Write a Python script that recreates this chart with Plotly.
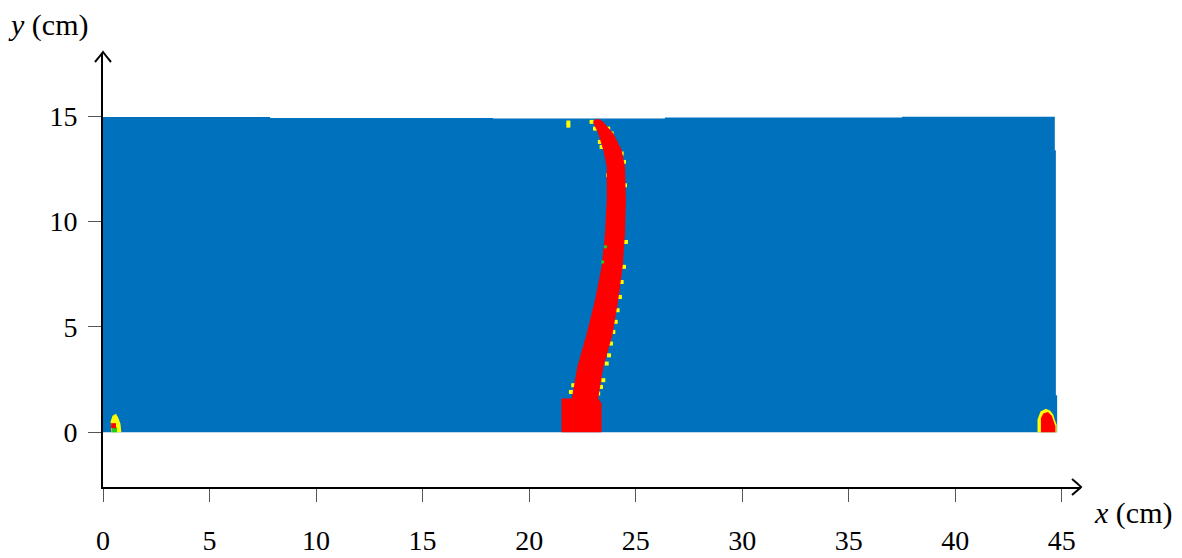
import plotly.graph_objects as go

# domain (water) outline, top edge is slightly stepped
domain_x = [0, 0, 7.84, 7.84, 18.3, 18.3, 26.37, 26.37, 37.5, 37.5, 44.67, 44.67, 44.72, 44.72, 44.78, 44.78]
domain_y = [0, 14.96, 14.96, 14.92, 14.92, 14.89, 14.89, 14.94, 14.94, 14.98, 14.98, 13.38, 13.38, 1.76, 1.76, 0]

# plume (red) edges
plume_y = [1.6, 3.1, 4.68, 6.26, 7.85, 9.43, 11.0, 12.6, 13.4, 14.18, 14.73]
plume_left = [22.0, 22.26, 22.7, 23.09, 23.4, 23.56, 23.64, 23.64, 23.48, 23.24, 23.0]
plume_right = [23.24, 23.48, 23.92, 24.18, 24.39, 24.5, 24.54, 24.5, 24.34, 23.95, 23.48]
plume_top_x = [23.1, 23.3]
plume_top_y = [14.85, 14.85]
source_x = [21.52, 23.4]
source_top = [1.6, 1.36]

# small blobs near the walls
left_yellow_x = [0.40, 0.36, 0.45, 0.61, 0.72, 0.82, 0.86]
left_yellow_y = [0, 0.52, 0.78, 0.88, 0.68, 0.4, 0]
left_red_x = [0.38, 0.38, 0.61, 0.61]
left_red_y = [0.19, 0.43, 0.43, 0.19]
left_green_x = [0.42, 0.42, 0.66, 0.66]
left_green_y = [0, 0.24, 0.24, 0]
right_yellow_x = [43.86, 43.86, 44.0, 44.25, 44.46, 44.6, 44.66, 44.76, 44.76]
right_yellow_y = [0, 0.6, 0.98, 1.12, 1.02, 0.83, 0.6, 0.35, 0]
right_red_x = [44.02, 44.02, 44.14, 44.35, 44.53, 44.6, 44.7, 44.7]
right_red_y = [0, 0.68, 0.9, 0.96, 0.78, 0.52, 0.28, 0]

# yellow speckles along plume edge
spk_x = [21.84, 21.84, 22.93, 23.09, 23.71, 23.87, 23.32, 23.4, 24.34, 24.45, 23.79, 23.71, 24.5,
         24.54, 24.45, 24.34, 24.26, 24.15, 24.06, 23.95, 23.84, 23.75, 23.64, 23.48, 23.37, 23.24,
         22.07, 21.96, 21.8]
spk_y = [14.55, 14.7, 14.73, 14.41, 14.41, 14.18, 13.78, 13.54, 13.23, 12.83, 12.75, 12.2, 11.72,
         9.03, 7.85, 7.13, 6.42, 5.79, 5.24, 4.76, 4.21, 3.65, 3.26, 2.47, 2.15, 1.84,
         2.23, 1.91, 1.2]
green_x = [23.58, 23.45]
green_y = [8.8, 8.08]

BLUE = "#0071BD"
RED = "#FF0000"
YELLOW = "#FFFF00"
GREEN = "#22CC22"
FONT = "Liberation Serif"

plume_x = ([source_x[0], source_x[0]] + plume_left + plume_top_x + plume_right[::-1]
           + [source_x[1], source_x[1]])
plume_yy = ([0, source_top[0]] + plume_y + plume_top_y + plume_y[::-1]
            + [source_top[1], 0])


def poly(x, y, color):
    return go.Scatter(x=x, y=y, fill="toself", fillcolor=color, mode="lines",
                      line=dict(width=0, color=color), hoverinfo="skip", showlegend=False)


fig = go.Figure()
fig.add_trace(poly(domain_x, domain_y, BLUE))
fig.add_trace(poly(left_yellow_x, left_yellow_y, YELLOW))
fig.add_trace(poly(left_green_x, left_green_y, GREEN))
fig.add_trace(poly(left_red_x, left_red_y, RED))
fig.add_trace(poly(right_yellow_x, right_yellow_y, YELLOW))
fig.add_trace(poly(right_red_x, right_red_y, RED))
fig.add_trace(go.Scatter(x=spk_x, y=spk_y, mode="markers", showlegend=False,
                         marker=dict(symbol="square", size=4, color=YELLOW, line=dict(width=0))))
fig.add_trace(poly(plume_x, plume_yy, RED))
fig.add_trace(go.Scatter(x=green_x, y=green_y, mode="markers", showlegend=False,
                         marker=dict(symbol="square", size=3, color=GREEN, line=dict(width=0))))

axis_common = dict(showgrid=False, zeroline=False, showline=True, linecolor="black", linewidth=2,
                   ticks="outside", ticklen=13, tickwidth=1.3, tickcolor="#555", automargin=False,
                   tickfont=dict(family=FONT, size=28, color="black"))
fig.update_xaxes(range=[0, 45.9], tickvals=[0, 5, 10, 15, 20, 25, 30, 35, 40, 45],
                 ticklabelstandoff=14, **axis_common)
fig.update_yaxes(range=[-2.6, 18.0], tickvals=[0, 5, 10, 15], ticklabelstandoff=5, **axis_common)

# open arrow heads on the axes
arrow = dict(type="path", xref="paper", yref="paper", xsizemode="pixel", ysizemode="pixel",
             line=dict(color="black", width=2))
fig.add_shape(xanchor=1, yanchor=0, path="M -9,8 Q -3,3 0,0 Q -3,-3 -9,-8", **arrow)
fig.add_shape(xanchor=0, yanchor=1, path="M -8,-9 Q -3,-3 0,1 Q 3,-3 8,-9", **arrow)

fig.add_annotation(x=0, y=1, xref="paper", yref="paper", xanchor="right", yanchor="middle",
                   xshift=-13, yshift=28, showarrow=False, text="<i>y</i> (cm)",
                   font=dict(family=FONT, size=30, color="black"))
fig.add_annotation(x=1, y=0, xref="paper", yref="paper", xanchor="left", yanchor="middle",
                   xshift=11, yshift=-26, showarrow=False, text="<i>x</i> (cm)",
                   font=dict(family=FONT, size=30, color="black"))

fig.update_layout(width=1182, height=558, margin=dict(l=103, r=101, t=53, b=71, autoexpand=False),
                  plot_bgcolor="white", paper_bgcolor="white", showlegend=False)
fig.write_html("out.html", config={"displayModeBar": False},
               post_script="document.body.style.margin='0';")
